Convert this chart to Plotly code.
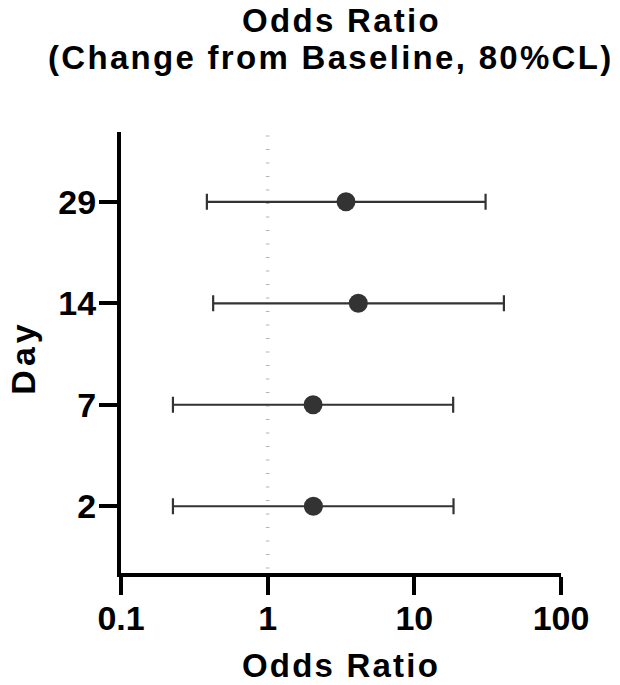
import plotly.graph_objects as go

# Odds ratios with 80% confidence limits, by study day
days = ["2", "7", "14", "29"]
odds_ratio = [2.05, 2.04, 4.15, 3.42]
lower_cl = [0.226, 0.226, 0.425, 0.385]
upper_cl = [18.5, 18.4, 40.8, 30.6]

x_ticks = [0.1, 1, 10, 100]
x_tick_labels = ["0.1", "1", "10", "100"]

title_lines = ["Odds Ratio", "(Change from Baseline, 80%CL)"]
x_title = "Odds Ratio"
y_title = "Day"

DARK = "#333333"
FONT = "Liberation Sans, Arial, sans-serif"


def spaced(text, px=2.3):
    return f'<span style="letter-spacing:{px}px">{text}</span>'


def bold_font(size):
    return dict(family=FONT, size=size, color="black", weight="bold")


err_plus = [u - m for u, m in zip(upper_cl, odds_ratio)]
err_minus = [m - l for m, l in zip(odds_ratio, lower_cl)]

fig = go.Figure()

fig.add_trace(go.Scatter(
    x=odds_ratio,
    y=days,
    mode="markers",
    marker=dict(size=19, color=DARK, line=dict(width=0)),
    error_x=dict(
        type="data",
        symmetric=False,
        array=err_plus,
        arrayminus=err_minus,
        color=DARK,
        thickness=2.2,
        width=8,
    ),
    showlegend=False,
    hoverinfo="skip",
))

# dotted reference line at OR = 1
fig.add_shape(
    type="line", xref="x", yref="paper",
    x0=1, x1=1, y0=0.01, y1=0.995,
    line=dict(color="#b3b3b3", width=3.5, dash="1px,12.5px"),
    layer="below",
)

# two-line chart title above the plot area
for line_text, x_pos, y_pos in zip(title_lines, [0.5, 0.476], [1.2528, 1.1688]):
    fig.add_annotation(
        text=spaced(line_text),
        xref="paper", yref="paper",
        x=x_pos, y=y_pos, xanchor="center", yanchor="middle",
        showarrow=False, font=bold_font(33),
    )

# axis titles
fig.add_annotation(
    text=spaced(x_title, 2.2),
    xref="paper", yref="paper",
    x=0.5, y=-0.2108, xanchor="center", yanchor="middle",
    showarrow=False, font=bold_font(33),
)
fig.add_annotation(
    text=spaced(y_title, 4),
    xref="paper", yref="paper",
    x=-0.2227, y=0.4883, xanchor="center", yanchor="middle",
    textangle=-90, showarrow=False, font=bold_font(34),
)

axis_style = dict(
    showgrid=False,
    zeroline=False,
    showline=True,
    linecolor="black",
    linewidth=4,
    ticks="outside",
    ticklen=18,
    tickwidth=4,
    tickcolor="black",
    tickfont=bold_font(34),
    automargin=False,
)

fig.update_layout(
    width=620,
    height=685,
    margin=dict(l=121, r=59, t=132, b=112, pad=0),
    paper_bgcolor="white",
    plot_bgcolor="white",
    font=dict(family=FONT, color="black", size=30, weight="bold"),
    xaxis=dict(
        type="log",
        range=[-1, 2],
        tickvals=x_ticks,
        ticktext=x_tick_labels,
        ticklabelstandoff=-6,
        **axis_style,
    ),
    yaxis=dict(
        type="category",
        categoryorder="array",
        categoryarray=days,
        range=[-0.658, 3.688],
        ticklabelstandoff=-4,
        **axis_style,
    ),
)

fig.write_html("out.html")
